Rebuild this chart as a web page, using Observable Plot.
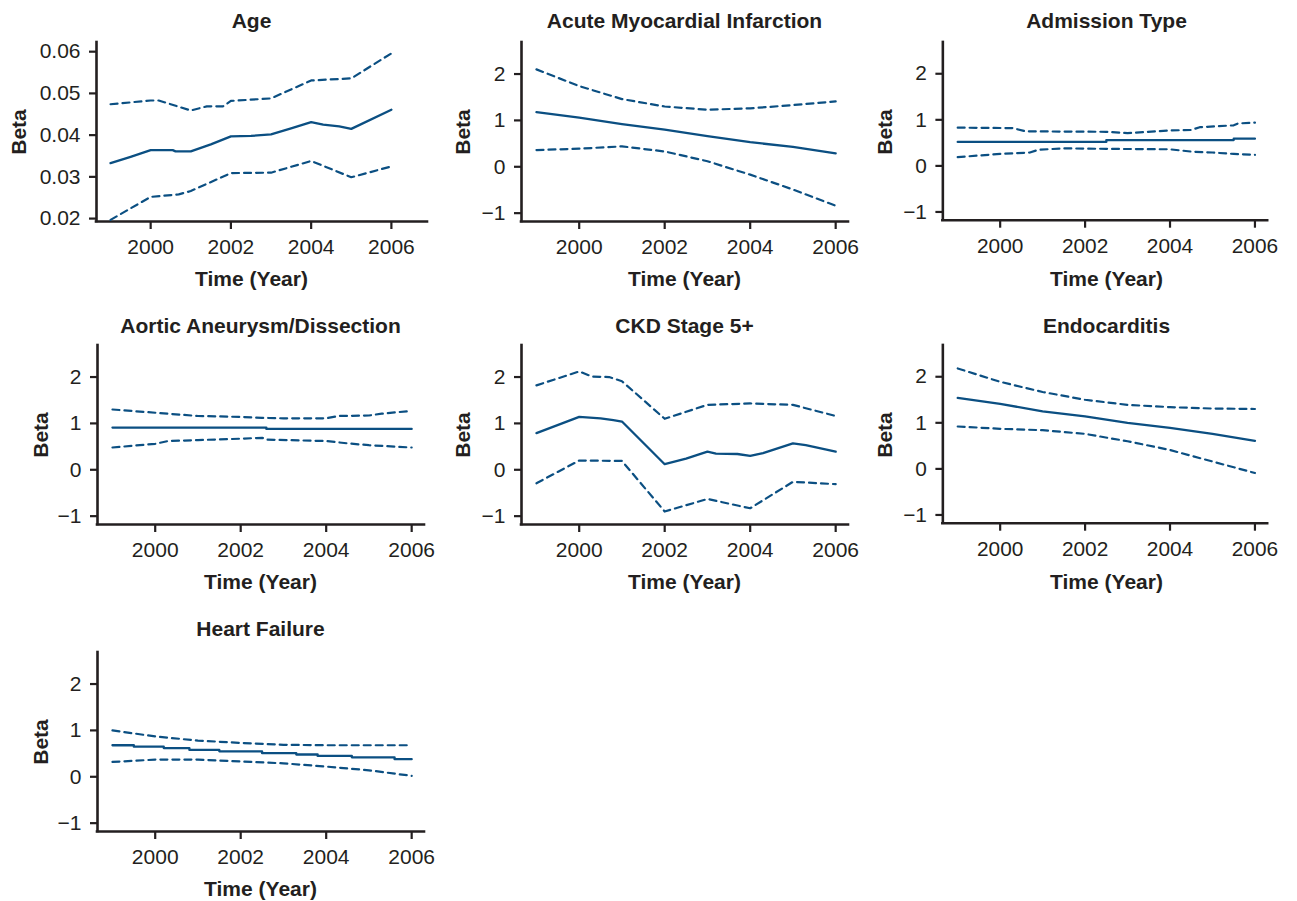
<!DOCTYPE html>
<html>
<head>
<meta charset="utf-8">
<script src="https://cdn.jsdelivr.net/npm/d3@7"></script>
<script src="https://cdn.jsdelivr.net/npm/@observablehq/plot@0.6"></script>
<style>
  html, body { margin: 0; padding: 0; background: #fff; }
  #root { position: relative; width: 1297px; height: 901px; background: #fff; font-family: "Liberation Sans", Arial, Helvetica, sans-serif; color: #231f20; }
  .lbl { position: absolute; font-weight: bold; font-size: 21px; white-space: nowrap; transform: translate(-50%, -50%); line-height: 1; }
  .beta { transform: translate(-50%, -50%) rotate(-90deg); }
  .panel { position: absolute; }
  .panel svg text { font-size: 21px; }
</style>
</head>
<body>
<div id="root"></div>
<script>
// ---- tick labels ----
const yearTicks = [2000, 2002, 2004, 2006];
const betaTicks = [-1, 0, 1, 2];
const ageTicks = [0.02, 0.03, 0.04, 0.05, 0.06];

// ---- data: [year, beta] ----
const ageEst = [[1999,0.0333],[1999.5,0.0348],[2000,0.0364],[2000.55,0.0364],[2000.62,0.0361],[2001,0.0361],[2001.5,0.0378],[2002,0.0397],[2002.5,0.0398],[2003,0.0402],[2003.5,0.0416],[2004,0.0431],[2004.3,0.0425],[2004.7,0.0421],[2005,0.0415],[2006,0.0461]];
const ageHi  = [[1999,0.0474],[2000,0.0483],[2000.2,0.0483],[2001,0.0459],[2001.4,0.0469],[2001.8,0.0469],[2002,0.0482],[2003,0.0488],[2004,0.0531],[2005,0.0536],[2006,0.0596]];
const ageLo  = [[1999,0.0197],[2000,0.0252],[2000.7,0.0258],[2001,0.0266],[2002,0.0309],[2003,0.0310],[2004,0.0338],[2005,0.0299],[2006,0.0325]];

const amiEst = [[1999,1.18],[2000,1.06],[2001,0.92],[2002,0.80],[2003,0.66],[2004,0.53],[2005,0.43],[2006,0.29]];
const amiHi  = [[1999,2.10],[2000,1.74],[2001,1.46],[2002,1.30],[2003,1.23],[2004,1.26],[2005,1.33],[2006,1.41]];
const amiLo  = [[1999,0.36],[2000,0.39],[2001,0.44],[2002,0.33],[2003,0.12],[2004,-0.17],[2005,-0.49],[2006,-0.84]];

const admEst = [[1999,0.52],[2002.5,0.56],[2005.5,0.59],[2006,0.59]];
const admHi  = [[1999,0.83],[2000.3,0.82],[2000.6,0.75],[2002.5,0.74],[2003,0.71],[2004,0.77],[2004.5,0.78],[2004.7,0.84],[2005.5,0.88],[2005.6,0.92],[2006,0.94]];
const admLo  = [[1999,0.19],[2000,0.26],[2000.7,0.29],[2000.9,0.35],[2001.5,0.38],[2002.5,0.37],[2004,0.36],[2004.5,0.31],[2005,0.29],[2005.5,0.26],[2006,0.24]];

const aorEst = [[1999,0.91],[2002.6,0.88],[2006,0.88]];
const aorHi  = [[1999,1.30],[2000,1.23],[2001,1.16],[2002,1.14],[2002.5,1.12],[2003,1.11],[2004,1.11],[2004.3,1.16],[2005,1.17],[2005.3,1.21],[2006,1.27]];
const aorLo  = [[1999,0.48],[2000,0.56],[2000.3,0.62],[2001,0.64],[2002,0.67],[2002.5,0.69],[2002.6,0.65],[2004,0.62],[2004.5,0.57],[2005,0.53],[2006,0.48]];

const ckdEst = [[1999,0.79],[2000,1.14],[2000.5,1.11],[2000.8,1.07],[2001,1.04],[2002,0.12],[2002.5,0.24],[2003,0.39],[2003.2,0.35],[2003.7,0.34],[2004,0.30],[2004.3,0.36],[2005,0.57],[2005.3,0.53],[2006,0.39]];
const ckdHi  = [[1999,1.82],[2000,2.12],[2000.3,2.01],[2000.7,2.00],[2001,1.91],[2002,1.10],[2003,1.40],[2004,1.43],[2005,1.40],[2006,1.16]];
const ckdLo  = [[1999,-0.29],[2000,0.20],[2001,0.19],[2002,-0.90],[2003,-0.63],[2004,-0.83],[2005,-0.26],[2006,-0.31]];

const endEst = [[1999,1.54],[2000,1.41],[2001,1.25],[2002,1.14],[2003,1.00],[2004,0.89],[2005,0.76],[2006,0.61]];
const endHi  = [[1999,2.18],[2000,1.89],[2001,1.67],[2002,1.50],[2003,1.39],[2004,1.34],[2005,1.31],[2006,1.30]];
const endLo  = [[1999,0.92],[2000,0.87],[2001,0.84],[2002,0.76],[2003,0.60],[2004,0.41],[2005,0.16],[2006,-0.09]];

const hfEst = [[1999,0.68],[1999.5,0.65],[2000.2,0.62],[2000.8,0.58],[2001.5,0.55],[2002.5,0.51],[2003.3,0.48],[2003.8,0.45],[2004.6,0.42],[2005.6,0.38],[2006,0.38]];
const hfHi  = [[1999,1.00],[2000,0.87],[2001,0.78],[2002,0.73],[2003,0.69],[2004,0.68],[2005,0.68],[2006,0.68]];
const hfLo  = [[1999,0.32],[2000,0.37],[2001,0.37],[2002,0.33],[2003,0.29],[2004,0.22],[2005,0.14],[2006,0.02]];

// ---- panel table built from the arrays ----
const panels = [
  {title:"Age", est:ageEst, hi:ageHi, lo:ageLo, yDomain:[0.0193,0.0622], yTicks:ageTicks, fmt:d3.format(".2f"), xMax:2006.9, estCurve:"linear"},
  {title:"Acute Myocardial Infarction", est:amiEst, hi:amiHi, lo:amiLo, yDomain:[-1.18,2.68], yTicks:betaTicks, fmt:d3.format(""), xMax:2006.3, estCurve:"linear"},
  {title:"Admission Type", est:admEst, hi:admHi, lo:admLo, yDomain:[-1.18,2.68], yTicks:betaTicks, fmt:d3.format(""), xMax:2006.3, estCurve:"step-after"},
  {title:"Aortic Aneurysm/Dissection", est:aorEst, hi:aorHi, lo:aorLo, yDomain:[-1.18,2.68], yTicks:betaTicks, fmt:d3.format(""), xMax:2006.3, estCurve:"step-after"},
  {title:"CKD Stage 5+", est:ckdEst, hi:ckdHi, lo:ckdLo, yDomain:[-1.18,2.68], yTicks:betaTicks, fmt:d3.format(""), xMax:2006.3, estCurve:"linear"},
  {title:"Endocarditis", est:endEst, hi:endHi, lo:endLo, yDomain:[-1.18,2.68], yTicks:betaTicks, fmt:d3.format(""), xMax:2006.3, estCurve:"linear"},
  {title:"Heart Failure", est:hfEst, hi:hfHi, lo:hfLo, yDomain:[-1.18,2.68], yTicks:betaTicks, fmt:d3.format(""), xMax:2006.3, estCurve:"step-after"}
];

// ---- layout (pixels) ----
const colLeft = [96, 521, 943];
const rowTop = [42, 345, 652];
const rowTitleY = [20, 325, 628];
const plotH = 179;
const xMin = 1998.65;
const pxPerYear = 42.7;
const agePxPerYear = 40.17;
const titleShift = [ -10, 0, 0, 0, 0, 0, 0 ];
const betaOffset = [78, 59, 59, 57, 59, 59, 57];

const blue = "#0b4f82";
const ink = "#231f20";
const root = document.getElementById("root");

panels.forEach((p, i) => {
  const col = i % 3, row = Math.floor(i / 3);
  const left = colLeft[col] + (row > 0 && col === 0 ? 1 : 0);
  const top = rowTop[row];
  const len = Math.round((p.xMax - xMin) * (i === 0 ? agePxPerYear : pxPerYear));
  const ML = 100, MR = 30, MT = 10, MB = 50;
  const W = ML + len + MR, H = MT + plotH + MB;

  const chart = Plot.plot({
    width: W, height: H,
    marginLeft: ML, marginRight: MR, marginTop: MT, marginBottom: MB,
    x: {domain: [xMin, p.xMax], range: [ML, ML + len]},
    y: {domain: p.yDomain, range: [MT + plotH, MT]},
    style: {fontFamily: '"Liberation Sans", Arial, Helvetica, sans-serif', fontSize: "21px", color: ink, background: "transparent", overflow: "visible"},
    marks: [
      Plot.axisX(yearTicks, {tickSize: 8, tickPadding: 10, tickFormat: d => String(d), label: null, stroke: ink, strokeWidth: 2.2, fill: ink, fontSize: 21}),
      Plot.axisY(p.yTicks, {tickSize: 7, tickPadding: 9, tickFormat: p.fmt, label: null, stroke: ink, strokeWidth: 2.2, fill: ink, fontSize: 21}),
      Plot.ruleX([xMin], {stroke: ink, strokeWidth: 2.6, strokeLinecap: "square"}),
      Plot.ruleY([p.yDomain[0]], {stroke: ink, strokeWidth: 2.6, strokeLinecap: "square"}),
      Plot.line(p.hi, {x: d => d[0], y: d => d[1], stroke: blue, strokeWidth: 2.2, strokeDasharray: "7,5"}),
      Plot.line(p.lo, {x: d => d[0], y: d => d[1], stroke: blue, strokeWidth: 2.2, strokeDasharray: "7,5"}),
      Plot.line(p.est, {x: d => d[0], y: d => d[1], stroke: blue, strokeWidth: 2.3, curve: p.estCurve})
    ]
  });
  const wrap = document.createElement("div");
  wrap.className = "panel";
  wrap.style.left = (left - ML) + "px";
  wrap.style.top = (top - MT) + "px";
  wrap.appendChild(chart);
  root.appendChild(wrap);

  const cx = left + len / 2 + titleShift[i];
  const t = document.createElement("div");
  t.className = "lbl"; t.textContent = p.title;
  t.style.left = cx + "px"; t.style.top = rowTitleY[row] + "px";
  root.appendChild(t);

  const xl = document.createElement("div");
  xl.className = "lbl"; xl.textContent = "Time (Year)";
  xl.style.left = cx + "px"; xl.style.top = (top + plotH + 57) + "px";
  root.appendChild(xl);

  const b = document.createElement("div");
  b.className = "lbl beta"; b.textContent = "Beta";
  b.style.left = (left - betaOffset[i]) + "px"; b.style.top = (top + plotH / 2) + "px";
  root.appendChild(b);
});
</script>
</body>
</html>
